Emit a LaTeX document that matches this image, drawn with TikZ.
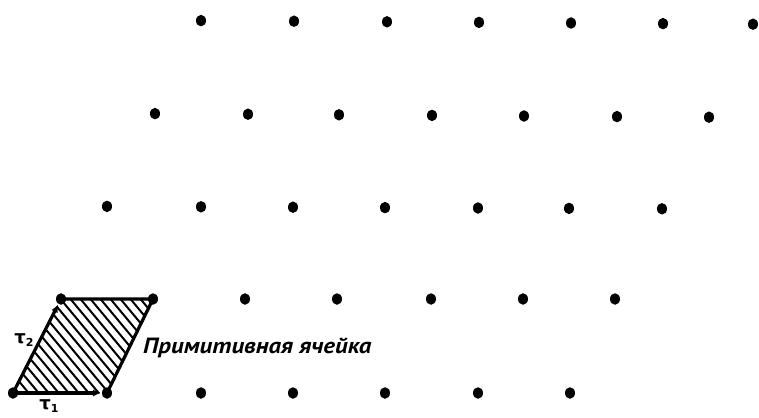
\documentclass[tikz,border=0pt]{standalone}
\usepackage{fontspec}
\newfontfamily\labelfont{PT Sans}
\newfontfamily\greekfont{DejaVu Sans}
\usetikzlibrary{arrows.meta,shapes.geometric}
\tikzset{
  dot/.style={ellipse, fill=black, inner sep=0pt, minimum width=10pt, minimum height=11.5pt},
  celledge/.style={line width=3.2pt, line cap=round},
  vecarrow/.style={line width=3.2pt, -{Latex[length=8pt,width=7pt]}, shorten >=6pt},
  hatch/.style={line width=2pt},
  caption/.style={font=\labelfont\bfseries\itshape\fontsize{22}{24}\selectfont, anchor=west, inner sep=0pt, xscale=1.13},
  veclabel/.style={font=\greekfont\bfseries\fontsize{18}{18}\selectfont, inner sep=0pt}
}
\newcommand{\vlab}[1]{τ\raisebox{-3pt}{\fontsize{11}{11}\selectfont #1}}
\begin{document}
\begin{tikzpicture}[x=1pt,y=-1pt]
\useasboundingbox (0,0) rectangle (759,417);
% hatching of the primitive cell
\begin{scope}
  \clip (13,393) -- (107,393) -- (153,299) -- (61,299) -- cycle;
  \foreach \c in {-80,-70,...,170} {
    \draw[hatch] (\c-12,284) -- (\c+92,409);
  }
\end{scope}
% lattice points
\foreach \x [count=\i] in {201,294,387,479,571,663,753} \node[dot] (r1c\i) at (\x,20+0.6*\i) {};
\foreach \x [count=\i] in {155,248,339,432,524,617,709} \node[dot] (r2c\i) at (\x,113+0.6*\i) {};
\foreach \x [count=\i] in {107,201,293,385,478,569,662} \node[dot] (r3c\i) at (\x,206+0.4*\i) {};
\foreach \x [count=\i] in {61,153,245,337,431,523,615} \node[dot] (r4c\i) at (\x,299) {};
\foreach \x [count=\i] in {13,107,201,293,385,478,570} \node[dot] (r5c\i) at (\x,393) {};
% cell edges
\draw[celledge] (r4c1.center) -- (r4c2.center) -- (r5c2.center);
\draw[vecarrow] (r5c1.center) -- (r5c2.center);
\draw[vecarrow] (r5c1.center) -- (r4c1.center);
% labels
\node[veclabel] (t1) at (49,406) {\vlab{1}};
\node[veclabel] (t2) at (24,340) {\vlab{2}};
\node[caption] (cap) at (143,348) {Примитивная ячейка};
\end{tikzpicture}
\end{document}
